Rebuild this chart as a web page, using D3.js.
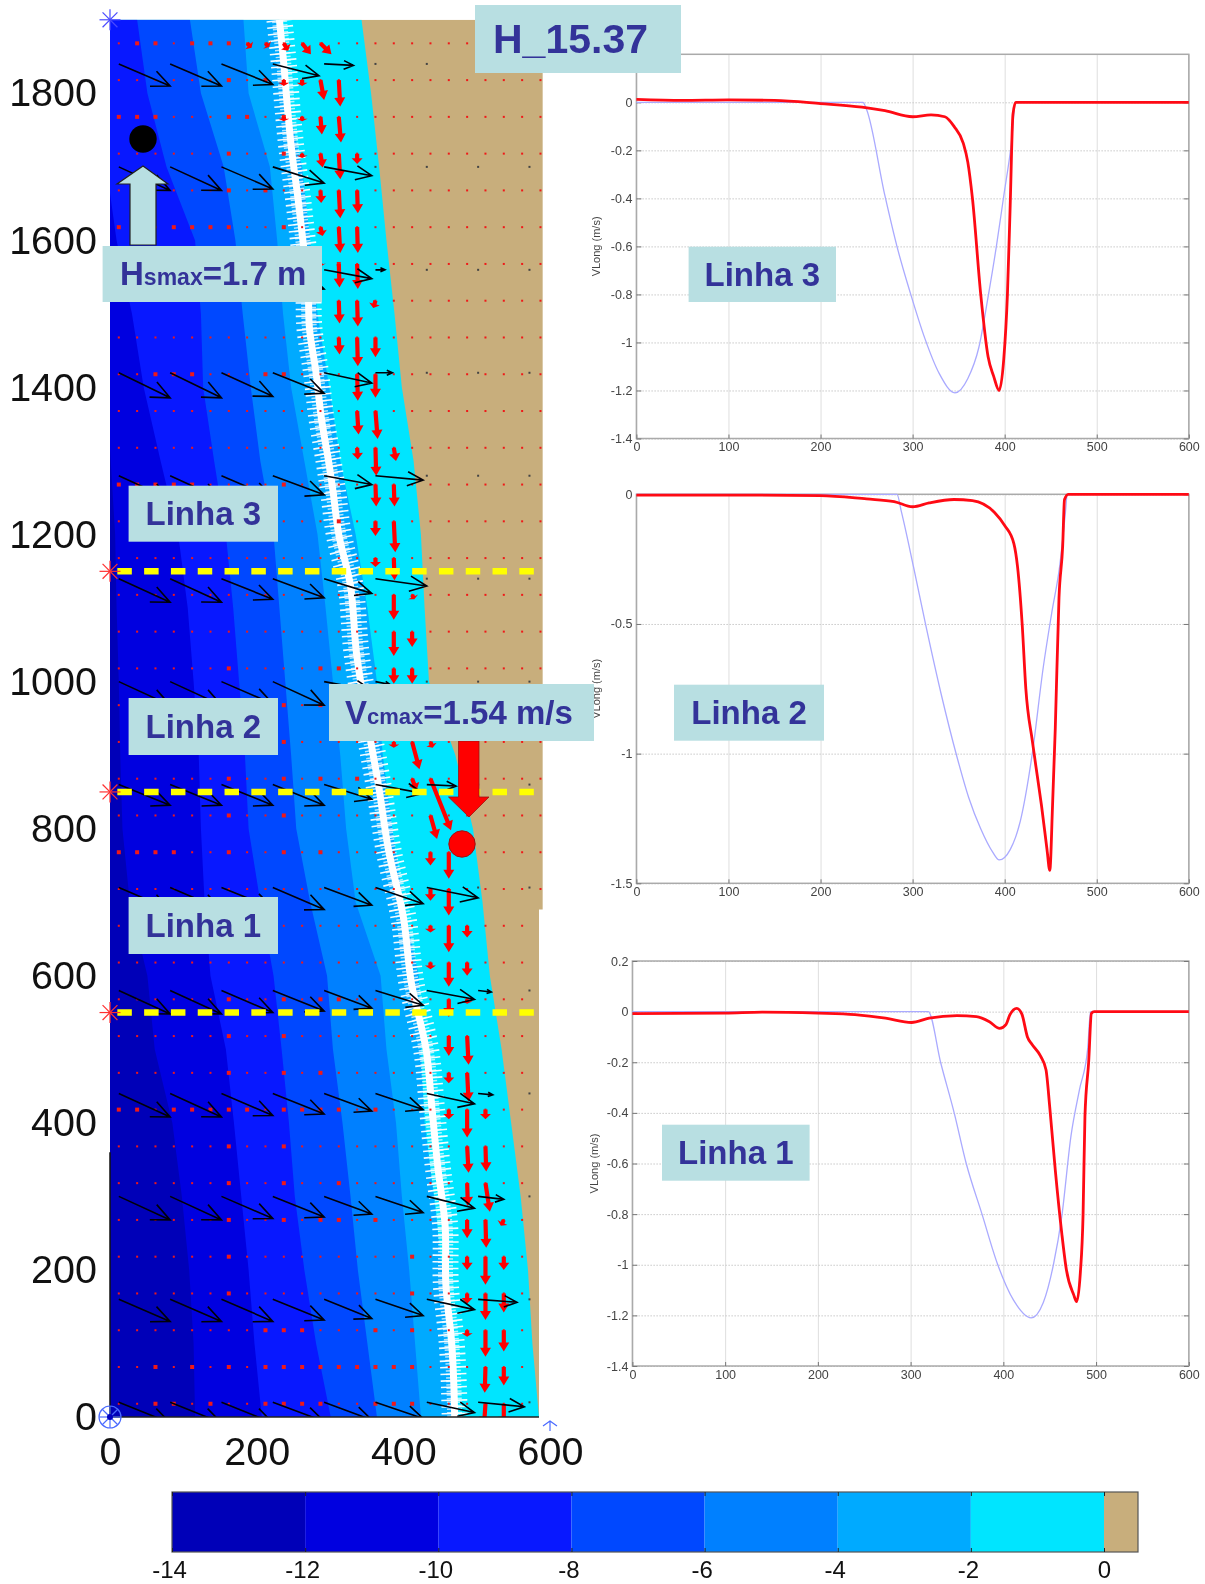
<!DOCTYPE html>
<html>
<head>
<meta charset="utf-8">
<script src="https://cdn.jsdelivr.net/npm/d3@7"></script>
<style>
  html, body { margin: 0; padding: 0; background: #fff; }
  svg { display: block; font-family: "Liberation Sans", Arial, sans-serif; filter: blur(0.7px); }
</style>
</head>
<body>
<div id="chart-area"></div>
<script>
// depth contours: x position of each level at each alongshore y
var contourY = [1900, 1800, 1700, 1600, 1500, 1400, 1300, 1200, 1100, 1000, 900, 800, 700, 600, 500, 400, 300, 200, 100, 0];
var edgeM12 = [-5, -5, -5, -5, -5, -5, 1, 7, 9, 12, 14, 17, 27, 51, 61, 85, 98, 108, 114, 116];
var edgeM10 = [-5, -5, -5, 9, 30, 46, 69, 93, 106, 114, 121, 124, 129, 137, 158, 169, 179, 189, 197, 207];
var edgeM8 = [37, 51, 77, 116, 124, 127, 142, 158, 168, 176, 184, 189, 205, 223, 234, 244, 252, 265, 281, 301];
var edgeM6 = [109, 124, 155, 171, 181, 192, 205, 223, 231, 239, 247, 254, 273, 296, 304, 317, 328, 338, 351, 364];
var edgeM4 = [182, 189, 218, 228, 236, 247, 265, 283, 294, 304, 314, 322, 335, 369, 377, 390, 398, 408, 416, 424];
var edgeM2 = [231, 239, 262, 273, 283, 299, 314, 335, 351, 364, 372, 385, 400, 421, 424, 429, 442, 453, 461, 471];
var edge0 = [343, 356, 367, 377, 388, 398, 414, 424, 429, 435, 471, 495, 508, 518, 534, 547, 560, 570, 576, 585];
var landY = [1900, 690, 690, 0];
var landX = [590, 590, 585, 585];

// colour bar
var levels = [-14, -12, -10, -8, -6, -4, -2, 0];
var bandColors = ["#0000b8", "#0000e0", "#0818ff", "#0048ff", "#0080ff", "#00aaff", "#00e5ff"];
var landColor = "#c8ae7c";

// breaking line (white markers)
var breakY = [1900, 1840, 1780, 1720, 1660, 1600, 1540, 1480, 1420, 1360, 1300, 1260, 1200, 1130, 1040, 950, 860, 770, 680, 590, 500, 420, 340, 260, 180, 100, 40, 0];
var breakX = [231, 237, 242, 248, 256, 263, 270, 272, 281, 288, 298, 304, 312, 328, 336, 350, 366, 380, 400, 411, 431, 439, 447, 457, 458, 466, 469, 470];

// red current vectors: [grid column, u, v] per row
var dotX = [12, 37, 62, 87, 112, 137, 162, 187, 212, 237, 262, 287, 312, 337, 362, 387, 412, 437, 462, 487, 512, 537, 562, 587];
var dotY = [1868, 1818, 1768, 1718, 1668, 1618, 1568, 1518, 1468, 1418, 1368, 1318, 1268, 1218, 1168, 1118, 1068, 1018, 968, 918, 868, 818, 768, 718, 668, 618, 568, 518, 468, 418, 368, 318, 268, 218, 168, 118, 68, 18];
var surfVec = [
  [[7, 6, 6], [8, 5, 5], [9, 6, 10], [10, 12, 15], [11, 15, 15]],
  [[9, 0, 8], [10, 0, 8], [11, 5, 27], [12, 2, 36]],
  [[9, 0, 6], [10, 0, 6], [11, 2, 24], [12, 3, 35]],
  [[10, 0, 6], [11, 3, 19], [12, 2, 35], [13, 0, 14]],
  [[11, 1, 17], [12, 2, 38], [13, 1, 31]],
  [[11, 3, 12], [12, 2, 35], [13, 1, 35]],
  [[11, 1, 3], [12, 1, 32], [13, 1, 34]],
  [[12, 1, 31], [13, 1, 35], [14, -3, 10]],
  [[12, 1, 23], [13, 1, 39], [14, 0, 27]],
  [[13, 1, 36], [14, 0, 32]],
  [[13, 2, 32], [14, 3, 38]],
  [[13, 1, 16], [14, 1, 38], [15, 3, 18]],
  [[14, 1, 30], [15, 1, 30]],
  [[14, 0, 20], [15, 2, 42]],
  [[14, 0, 12], [15, 1, 30]],
  [[15, 0, 34], [16, 3, 6]],
  [[15, 0, 33], [16, 0, 21]],
  [[15, 0, 21], [16, 0, 21]],
  [[15, 0, 15], [16, 1, 15]],
  [[15, 0, 8], [16, 10, 37], [17, 3, 8]],
  [[16, 6, 16], [17, 28, 70]],
  [[17, 9, 32]],
  [[17, 0, 18], [18, 0, 36]],
  [[17, 0, 16], [18, 0, 36]],
  [[17, 0, 9], [18, 0, 36], [19, 0, 16]],
  [[17, 0, 9], [18, 0, 33], [19, 0, 18]],
  [[18, 0, 24], [19, 0, 6]],
  [[18, 0, 27], [19, 2, 39]],
  [[18, 0, 14], [19, 2, 39]],
  [[18, 0, 13], [19, 0, 38], [20, 0, 13]],
  [[19, 2, 36], [20, 1, 34]],
  [[19, 1, 31], [20, 6, 39]],
  [[19, 0, 25], [20, 1, 38], [21, -4, 8]],
  [[19, 0, 18], [20, 0, 38], [21, 0, 18]],
  [[19, 0, 14], [20, 0, 36], [21, 0, 26]],
  [[19, 0, 9], [20, 0, 36], [21, 0, 29]],
  [[20, -1, 35], [21, 0, 25]],
  [[20, -2, 30], [21, 0, 30]]
];
// columns where the red dot is drawn larger, same rows as dotY
var bigDots = [
  [1, 2, 4, 5, 6], [6, 8], [0, 1, 2, 6, 7, 9], [6, 9], [6, 8], [0, 3, 4, 5, 6, 9], [12], [], [], [2, 3, 4, 8, 9],
  [], [], [0, 1, 2, 3, 4, 9], [12], [], [], [], [6, 11, 12], [9, 11, 12], [9], [6, 9, 11, 13], [6, 9],
  [0, 1, 2, 3, 6, 9, 11], [], [], [], [6, 9, 11, 12], [6, 9], [6, 9, 11], [0, 1, 3, 4, 5, 6, 7, 9, 10, 11, 12, 14],
  [6, 9], [6, 9, 12], [6, 9, 11, 12, 14], [6, 16], [6, 16], [8, 9, 10, 14, 16],
  [2, 4, 6, 8, 9, 10, 11, 12, 13, 14, 15, 16], [2, 3, 5, 8, 9, 10, 11, 14, 15, 16]
];

// black wave vectors
var waveX = [12, 82, 152, 222, 292, 362, 432, 502, 572];
var waveY = [1840, 1700, 1560, 1420, 1280, 1140, 1000, 860, 720, 580, 440, 300, 160, 20];
var waveU = [
  [70, 70, 70, 63, 40],
  [70, 70, 70, 70, 65],
  [70, 70, 70, 70, 65, 13],
  [70, 70, 70, 70, 65, 23],
  [70, 70, 70, 70, 65, 65],
  [70, 70, 70, 70, 65, 70],
  [70, 70, 70, 70, 65, 20],
  [70, 70, 70, 70, 65, 65, 40],
  [70, 70, 70, 70, 65, 65, 70],
  [70, 70, 70, 70, 65, 65, 65, 18],
  [70, 70, 70, 70, 65, 65, 65, 20],
  [70, 70, 70, 70, 65, 65, 65, 35],
  [70, 70, 70, 70, 65, 65, 65, 53],
  [70, 70, 70, 70, 65, 65, 65, 63]
];
var waveV = [
  [30, 30, 28, 16, 2],
  [32, 32, 30, 22, 12],
  [32, 32, 30, 26, 12, 0],
  [34, 34, 32, 28, 14, 0],
  [32, 32, 30, 26, 12, 6],
  [32, 32, 28, 26, 20, 10],
  [32, 32, 30, 32, 12, 4],
  [28, 28, 28, 28, 20, 12, 2],
  [30, 30, 28, 30, 24, 22, 14],
  [32, 32, 30, 28, 24, 20, 12, 2],
  [32, 32, 30, 28, 24, 22, 14, 2],
  [32, 32, 30, 28, 24, 22, 16, 4],
  [30, 30, 30, 28, 26, 22, 14, 4],
  [28, 28, 28, 26, 24, 22, 14, 6]
];

var mapXTicks = [0, 200, 400, 600];
var mapYTicks = [0, 200, 400, 600, 800, 1000, 1200, 1400, 1600, 1800];
var transects = [1150, 850, 550];

// VLong profiles along the three lines
var xTicks = [0, 100, 200, 300, 400, 500, 600];
var line3X = [0, 50, 100, 150, 200, 245, 270, 300, 320, 335, 345, 355, 360, 365, 374, 382, 388, 394, 399, 403, 406, 409, 412, 600];
var line3Red = [0.012, 0.008, 0.01, 0.008, -0.005, -0.02, -0.035, -0.06, -0.052, -0.06, -0.1, -0.17, -0.25, -0.4, -0.8, -1.06, -1.14, -1.2, -1.07, -0.8, -0.43, -0.05, 0, 0];
var line3BlueX = [0, 246, 250, 270, 283, 298, 313, 329, 346, 360, 372, 382, 391, 399, 407, 412, 600];
var line3Blue = [0, 0, -0.03, -0.39, -0.6, -0.8, -0.98, -1.13, -1.21, -1.15, -1.02, -0.81, -0.6, -0.39, -0.18, 0, 0];

var line2X = [0, 100, 200, 250, 280, 300, 318, 345, 365, 389, 400, 410, 414, 419, 423, 430, 436, 440, 446, 449, 452, 455, 459, 463, 465, 469, 600];
var line2Red = [-0.003, -0.003, -0.005, -0.018, -0.028, -0.048, -0.033, -0.02, -0.024, -0.07, -0.12, -0.19, -0.28, -0.5, -0.75, -0.95, -1.1, -1.2, -1.37, -1.45, -1.2, -0.9, -0.4, -0.2, -0.02, 0, 0];
var line2BlueX = [0, 283, 288, 301, 314, 331, 348, 361, 374, 387, 394, 406, 417, 430, 442, 451, 460, 466, 468, 600];
var line2Blue = [0, 0, -0.07, -0.28, -0.5, -0.77, -1.01, -1.17, -1.29, -1.38, -1.41, -1.37, -1.26, -1.0, -0.665, -0.46, -0.27, -0.07, 0, 0];

var line1X = [0, 100, 140, 200, 240, 273, 301, 320, 350, 371, 385, 396, 403, 407, 414.5, 420, 426, 431, 440, 446, 450, 456, 463, 468, 476, 479, 483, 486, 488, 492, 495, 498, 600];
var line1Red = [-0.008, -0.006, -0.002, -0.006, -0.012, -0.026, -0.043, -0.026, -0.016, -0.02, -0.04, -0.066, -0.05, -0.013, 0.013, -0.01, -0.1, -0.13, -0.175, -0.23, -0.375, -0.625, -0.875, -1.02, -1.12, -1.146, -1.034, -0.8, -0.415, -0.2, -0.007, 0, 0];
var line1BlueX = [0, 319, 332.6, 347, 360, 377, 394, 411, 430, 443, 454, 463, 473, 482, 491, 494, 600];
var line1Blue = [0, 0, -0.204, -0.4, -0.6, -0.8, -1, -1.14, -1.21, -1.15, -1.0, -0.81, -0.49, -0.31, -0.145, 0, 0];

var ticks3 = [0, -0.2, -0.4, -0.6, -0.8, -1, -1.2, -1.4];
var ticks2 = [0, -0.5, -1, -1.5];
var ticks1 = [0.2, 0, -0.2, -0.4, -0.6, -0.8, -1, -1.2, -1.4];

var svg = d3.select("#chart-area").append("svg")
  .attr("width", 1205)
  .attr("height", 1584);

var xMap = d3.scaleLinear().domain([0, 600]).range([110, 550]);
var yMap = d3.scaleLinear().domain([0, 1900]).range([1417, 19.8]);

svg.append("clipPath").attr("id", "mapClip").append("rect")
  .attr("x", xMap(0)).attr("y", yMap(1900))
  .attr("width", xMap(600) - xMap(0)).attr("height", yMap(0) - yMap(1900));

var map = svg.append("g").attr("clip-path", "url(#mapClip)");

// land first, then each band painted over it from the shore out
var landPts = landY.map((d, i) => ({ y: d, x: landX[i] }));
map.append("path")
  .attr("fill", landColor)
  .attr("d", d3.area().x0(xMap(0)).x1((d) => xMap(d.x)).y((d) => yMap(d.y))(landPts));

var edges = [edge0, edgeM2, edgeM4, edgeM6, edgeM8, edgeM10, edgeM12];
edges.forEach((edge, k) => {
  var pts = contourY.map((d, i) => ({ y: d, x: edge[i] }));
  map.append("path")
    .attr("fill", bandColors[6 - k])
    .attr("d", d3.area().x0(xMap(0)).x1((d) => xMap(d.x)).y((d) => yMap(d.y))(pts));
});

// breaking line: bars + core
var breakPts = breakY.map((d, i) => [xMap(breakX[i]), yMap(d)]);
var breakLine = d3.line().curve(d3.curveCatmullRom)(breakPts);
map.append("path").attr("d", breakLine).attr("fill", "none")
  .attr("stroke", "#fff").attr("stroke-width", 26).attr("stroke-dasharray", "1.6 5").attr("opacity", 0.95);
map.append("path").attr("d", breakLine).attr("fill", "none")
  .attr("stroke", "#fff").attr("stroke-width", 15).attr("stroke-dasharray", "1.5 2").attr("stroke-dashoffset", 2).attr("opacity", 0.7);
map.append("path").attr("d", breakLine).attr("fill", "none")
  .attr("stroke", "#fff").attr("stroke-width", 7);

// grid dots
var dots = [];
dotY.forEach((y, r) => {
  dotX.forEach((x, c) => {
    if (c == 23 && y < 690) return;
    dots.push({ x: x, y: y, big: bigDots[r].indexOf(c) >= 0 });
  });
});
map.selectAll(".dot").data(dots).enter().append("rect")
  .attr("class", "dot")
  .attr("x", (d) => xMap(d.x) - (d.big ? 2 : 1))
  .attr("y", (d) => yMap(d.y) - (d.big ? 2 : 1))
  .attr("width", (d) => d.big ? 4 : 2)
  .attr("height", (d) => d.big ? 4 : 2)
  .attr("fill", "#f01818");

var blackDots = [];
waveY.forEach((y, r) => {
  waveX.forEach((x, c) => {
    if (c >= waveU[r].length) blackDots.push({ x: x, y: y });
  });
});
map.selectAll(".bdot").data(blackDots).enter().append("rect")
  .attr("class", "bdot")
  .attr("x", (d) => xMap(d.x) - 1)
  .attr("y", (d) => yMap(d.y) - 1)
  .attr("width", 2).attr("height", 2)
  .attr("fill", "#444");

// red current vectors
var surf = [];
dotY.forEach((y, r) => {
  surfVec[r].forEach((v) => {
    surf.push({ x: dotX[v[0]], y: y, u: v[1], v: v[2] });
  });
});
function redArrow(d) {
  var x0 = xMap(d.x), y0 = yMap(d.y), x1 = xMap(d.x + d.u), y1 = yMap(d.y - d.v);
  var len = Math.hypot(x1 - x0, y1 - y0), ux = (x1 - x0) / len, uy = (y1 - y0) / len;
  var hl = Math.min(9, len * 0.55), hw = 5.5, sw = 2.1;
  var bx = x1 - ux * hl, by = y1 - uy * hl;
  return "M" + (x0 - uy * sw) + "," + (y0 + ux * sw) + "L" + (bx - uy * sw) + "," + (by + ux * sw) +
    "L" + (bx - uy * hw) + "," + (by + ux * hw) + "L" + x1 + "," + y1 +
    "L" + (bx + uy * hw) + "," + (by - ux * hw) + "L" + (bx + uy * sw) + "," + (by - ux * sw) +
    "L" + (x0 + uy * sw) + "," + (y0 - ux * sw) + "Z";
}
map.selectAll(".surf").data(surf).enter().append("path")
  .attr("class", "surf")
  .attr("d", redArrow)
  .attr("fill", "#ff0000");

// black wave vectors
var waves = [];
waveY.forEach((y, r) => {
  waveU[r].forEach((u, c) => {
    waves.push({ x: waveX[c], y: y, u: u, v: waveV[r][c] });
  });
});
function barbArrow(d) {
  var x0 = xMap(d.x), y0 = yMap(d.y), x1 = xMap(d.x + d.u), y1 = yMap(d.y - d.v);
  var a = Math.atan2(y1 - y0, x1 - x0), len = Math.hypot(x1 - x0, y1 - y0);
  var h = Math.max(len * 0.36, 5), s = 0.42;
  return "M" + x0 + "," + y0 + "L" + x1 + "," + y1 +
    "M" + (x1 - h * Math.cos(a - s)) + "," + (y1 - h * Math.sin(a - s)) + "L" + x1 + "," + y1 +
    "L" + (x1 - h * Math.cos(a + s)) + "," + (y1 - h * Math.sin(a + s));
}
map.selectAll(".wave").data(waves).enter().append("path")
  .attr("class", "wave")
  .attr("d", barbArrow)
  .attr("fill", "none")
  .attr("stroke", "#000008")
  .attr("stroke-width", 1.6);

// axes lines and tick text
svg.append("line").attr("x1", xMap(0)).attr("x2", xMap(0)).attr("y1", yMap(360)).attr("y2", yMap(0))
  .attr("stroke", "#111").attr("stroke-width", 1.5);
svg.append("line").attr("x1", xMap(0)).attr("x2", xMap(585)).attr("y1", yMap(0)).attr("y2", yMap(0))
  .attr("stroke", "#222").attr("stroke-width", 1.5);

var mapLeft = svg.append("g").attr("transform", "translate(" + xMap(0) + ",0)")
  .call(d3.axisLeft(yMap).tickValues(mapYTicks).tickSize(0).tickPadding(13).tickFormat((d) => String(d)));
var mapBottom = svg.append("g").attr("transform", "translate(0," + (yMap(0) + 16) + ")")
  .call(d3.axisBottom(xMap).tickValues(mapXTicks).tickSize(0).tickPadding(4).tickFormat((d) => String(d)));
[mapLeft, mapBottom].forEach((g) => {
  g.select(".domain").remove();
  g.selectAll("text").attr("font-size", 39.5).attr("font-family", "Liberation Sans").attr("fill", "#111");
});

// yellow transect lines and their asterisks
map.selectAll(".transect").data(transects).enter().append("line")
  .attr("class", "transect")
  .attr("x1", xMap(10)).attr("x2", xMap(590))
  .attr("y1", (d) => yMap(d)).attr("y2", (d) => yMap(d))
  .attr("stroke", "#ffff00").attr("stroke-width", 6.5).attr("stroke-dasharray", "14.5 12.3");

function asterisk(px, py, r, color) {
  var g = svg.append("g").attr("stroke", color).attr("stroke-width", 1.2);
  [0, 45, 90, 135].forEach((a) => {
    var c = Math.cos(a * Math.PI / 180) * r, s = Math.sin(a * Math.PI / 180) * r;
    g.append("line").attr("x1", px - c).attr("x2", px + c).attr("y1", py - s).attr("y2", py + s);
  });
}
asterisk(xMap(0), yMap(1900), 10.5, "#4a4aff");
transects.forEach((t) => asterisk(xMap(0), yMap(t), 10.5, "#ff3030"));
asterisk(xMap(0), yMap(0), 11, "#4a6aff");
svg.append("circle").attr("cx", xMap(0)).attr("cy", yMap(0)).attr("r", 11)
  .attr("fill", "none").attr("stroke", "#4a6aff").attr("stroke-width", 1.2);
svg.append("circle").attr("cx", xMap(0)).attr("cy", yMap(0)).attr("r", 3).attr("fill", "#0000c0");
svg.append("path")
  .attr("d", "M" + (xMap(600) - 7) + "," + (yMap(0) + 9) + "L" + xMap(600) + "," + (yMap(0) + 4) + "L" + (xMap(600) + 7) + "," + (yMap(0) + 9) +
    "M" + xMap(600) + "," + (yMap(0) + 4) + "L" + xMap(600) + "," + (yMap(0) + 14))
  .attr("fill", "none").attr("stroke", "#4a6aff").attr("stroke-width", 1.2);

// colour bar
var xBar = d3.scaleLinear().domain([-14, 0]).range([172, 1104]);
var barRight = 1138;
svg.selectAll(".band").data(levels.slice(0, 7)).enter().append("rect")
  .attr("class", "band")
  .attr("x", (d) => xBar(d))
  .attr("y", 1492)
  .attr("width", (d) => xBar(d + 2) - xBar(d))
  .attr("height", 60)
  .attr("fill", (d, i) => bandColors[i]);
svg.append("rect").attr("x", xBar(0)).attr("y", 1492).attr("width", barRight - xBar(0)).attr("height", 60).attr("fill", landColor);
svg.append("rect").attr("x", 172).attr("y", 1492).attr("width", barRight - 172).attr("height", 60)
  .attr("fill", "none").attr("stroke", "#555").attr("stroke-width", 1.2);
var barAxis = svg.append("g").attr("transform", "translate(0,1552)")
  .call(d3.axisBottom(xBar).tickValues(levels).tickSize(-4).tickFormat((d) => String(d)));
barAxis.select(".domain").remove();
barAxis.selectAll("line").attr("stroke", "#222");
barAxis.selectAll("text")
  .attr("x", (d) => d < 0 ? -3 : 0)
  .attr("y", 26).attr("dy", 0)
  .attr("font-size", 24).attr("font-family", "Liberation Sans").attr("fill", "#111");
var barTop = svg.append("g").attr("transform", "translate(0,1492)")
  .call(d3.axisTop(xBar).tickValues(levels).tickSize(-4).tickFormat(""));
barTop.select(".domain").remove();
barTop.selectAll("line").attr("stroke", "#222");

// VLong panels
function drawPanel(left, right, top, bottom, domain, yTicks, xr, red, xb, blue, labelX) {
  var x = d3.scaleLinear().domain([0, 600]).range([left, right]);
  var y = d3.scaleLinear().domain(domain).range([bottom, top]);
  var g = svg.append("g");
  var gx = g.append("g").attr("transform", "translate(0," + bottom + ")")
    .call(d3.axisBottom(x).tickValues(xTicks).tickSize(top - bottom).tickFormat(""));
  gx.select(".domain").remove();
  gx.selectAll("line").attr("stroke", "#dedede");
  var gy = g.append("g").attr("transform", "translate(" + left + ",0)")
    .call(d3.axisLeft(y).tickValues(yTicks).tickSize(left - right).tickFormat(""));
  gy.select(".domain").remove();
  gy.selectAll("line").attr("stroke", "#c8c8c8").attr("stroke-dasharray", "1.5 1.5");

  g.append("rect").attr("x", left).attr("y", top).attr("width", right - left).attr("height", bottom - top)
    .attr("fill", "none").attr("stroke", "#aaa").attr("stroke-width", 1.5);

  var bAxis = g.append("g").attr("transform", "translate(0," + bottom + ")")
    .call(d3.axisBottom(x).tickValues(xTicks).tickSize(-4).tickPadding(5).tickFormat((d) => String(d)));
  var lAxis = g.append("g").attr("transform", "translate(" + left + ",0)")
    .call(d3.axisLeft(y).tickValues(yTicks).tickSize(-5).tickPadding(4).tickFormat((d) => String(d)));
  var rAxis = g.append("g").attr("transform", "translate(" + right + ",0)")
    .call(d3.axisRight(y).tickValues(yTicks).tickSize(-5).tickFormat(""));
  [bAxis, lAxis, rAxis].forEach((a) => {
    a.select(".domain").remove();
    a.selectAll("line").attr("stroke", "#777");
    a.selectAll("text").attr("font-size", 12.5).attr("font-family", "Liberation Sans").attr("fill", "#444");
  });
  bAxis.selectAll("text").attr("dy", "0.6em");

  g.append("text").text("VLong (m/s)")
    .attr("transform", "translate(" + labelX + "," + (y(domain[0]) + y(domain[1])) / 2 + ") rotate(-90)")
    .attr("text-anchor", "middle").attr("font-size", 11).attr("fill", "#444");

  var lineFn = d3.line().x((d) => x(d[0])).y((d) => y(d[1])).curve(d3.curveMonotoneX);
  g.append("path").attr("d", lineFn(xb.map((d, i) => [d, blue[i]])))
    .attr("fill", "none").attr("stroke", "#aaaaff").attr("stroke-width", 1.3);
  g.append("path").attr("d", lineFn(xr.map((d, i) => [d, red[i]])))
    .attr("fill", "none").attr("stroke", "#ff0a14").attr("stroke-width", 2.8);
}
drawPanel(636.4, 1188.8, 54.3, 438.5, [-1.4, 0.2], ticks3, line3X, line3Red, line3BlueX, line3Blue, 600);
drawPanel(636.4, 1188.8, 494.3, 883.3, [-1.5, 0], ticks2, line2X, line2Red, line2BlueX, line2Blue, 600);
drawPanel(632.4, 1188.8, 961, 1366, [-1.4, 0.2], ticks1, line1X, line1Red, line1BlueX, line1Blue, 598);

// annotations
var boxFill = "#b8dfe2", inkBlue = "#333399";
function box(x, y, w, h) {
  svg.append("rect").attr("x", x).attr("y", y).attr("width", w).attr("height", h).attr("fill", boxFill);
}
function linha(x, y, w, h, label) {
  box(x, y, w, h);
  svg.append("text").text(label)
    .attr("x", x + w / 2).attr("y", y + h / 2 + 11.5)
    .attr("text-anchor", "middle").attr("font-size", 33).attr("font-weight", "bold").attr("fill", inkBlue);
}
linha(128.6, 485.7, 149.4, 56, "Linha 3");
linha(128.6, 698, 149.4, 57, "Linha 2");
linha(128.6, 897, 149.4, 57, "Linha 1");
linha(688.6, 246.7, 147.4, 55.3, "Linha 3");
linha(674, 684.7, 150, 56, "Linha 2");
linha(662, 1124.7, 147.6, 56, "Linha 1");

box(475, 5, 206, 68);
svg.append("text").text("H_15.37").attr("x", 493).attr("y", 53)
  .attr("font-size", 41).attr("font-weight", "bold").attr("fill", inkBlue);

// offshore arrow and wave gauge
svg.append("circle").attr("cx", 143).attr("cy", 139).attr("r", 13.7).attr("fill", "#000");
svg.append("path")
  .attr("d", "M143,166L168,184L156,184L156,245L130,245L130,184L117,184Z")
  .attr("fill", boxFill).attr("stroke", "#222").attr("stroke-width", 1.2);

box(102.6, 246, 219.4, 56);
var hs = svg.append("text").attr("x", 120).attr("y", 285).attr("font-weight", "bold").attr("fill", inkBlue).attr("font-size", 33);
hs.append("tspan").text("H");
hs.append("tspan").text("smax").attr("font-size", 23);
hs.append("tspan").text("=1.7 m");

// current maximum arrow and gauge
svg.append("path")
  .attr("d", "M458.5,741L479,741L479,797L489,797L469,817L448.5,797L458.5,797Z")
  .attr("fill", "#ff0000").attr("stroke", "#a01010").attr("stroke-width", 0.8);
svg.append("circle").attr("cx", 462).attr("cy", 844).attr("r", 13.2)
  .attr("fill", "#ff0000").attr("stroke", "#a01010").attr("stroke-width", 1);

box(329, 684, 265, 57);
var vc = svg.append("text").attr("x", 345).attr("y", 724).attr("font-weight", "bold").attr("fill", inkBlue).attr("font-size", 33);
vc.append("tspan").text("V");
vc.append("tspan").text("cmax").attr("font-size", 22);
vc.append("tspan").text("=1.54 m/s");
</script>
</body>
</html>
